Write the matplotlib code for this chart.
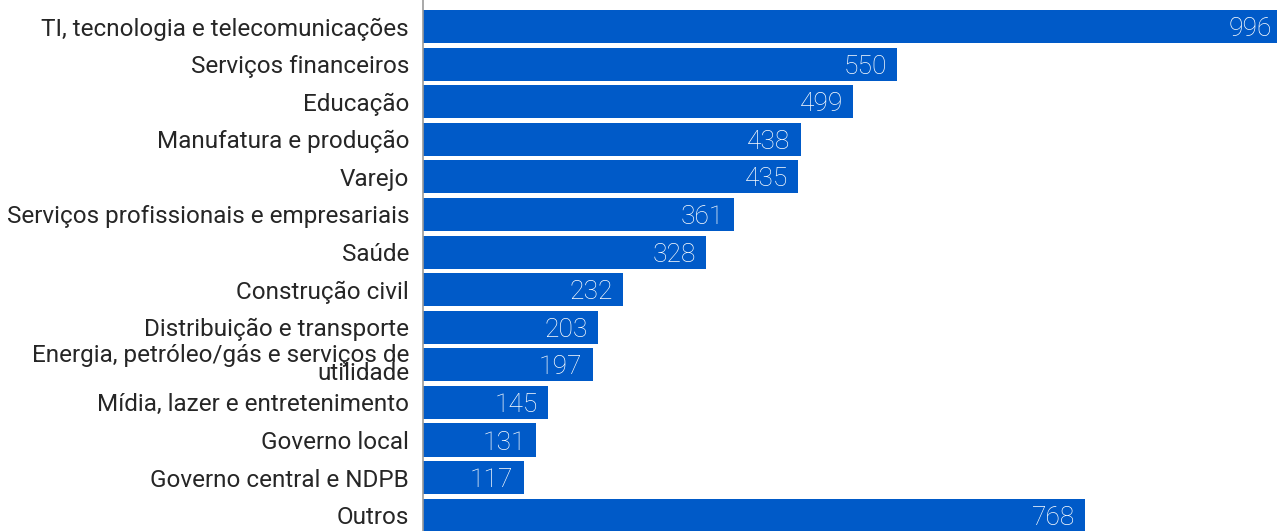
import matplotlib.pyplot as plt

# data
categories = [
    "TI, tecnologia e telecomunicações",
    "Serviços financeiros",
    "Educação",
    "Manufatura e produção",
    "Varejo",
    "Serviços profissionais e empresariais",
    "Saúde",
    "Construção civil",
    "Distribuição e transporte",
    "Energia, petróleo/gás e serviços de\nutilidade",
    "Mídia, lazer e entretenimento",
    "Governo local",
    "Governo central e NDPB",
    "Outros",
]
values = [996, 550, 499, 438, 435, 361, 328, 232, 203, 197, 145, 131, 117, 768]

bar_color = "#005AC8"
text_color = "#262626"

plt.rcParams['font.family'] = ['Roboto', 'DejaVu Sans']

fig = plt.figure(figsize=(12.77, 5.31), dpi=100)
ax = fig.add_axes([423 / 1277, 0, 854 / 1277, 1])

y = list(range(len(categories)))
ax.barh(y, values, height=0.88, color=bar_color)

for yi, v in zip(y, values):
    ax.text(v - 12, yi, str(v), color="white", ha="right", va="center_baseline",
            fontsize=19, fontweight="light")

ax.set_xlim(0, 990)
ax.set_ylim(13.42, -0.705)
ax.set_yticks(y)
ax.set_yticklabels(categories, fontsize=17.5, color=text_color, fontweight="normal",
                   linespacing=0.7, va="center_baseline")
ax.tick_params(axis="y", length=0, pad=10)
ax.set_xticks([])

for s in ["top", "right", "bottom"]:
    ax.spines[s].set_visible(False)
ax.spines["left"].set_color("#999999")
ax.spines["left"].set_linewidth(1.2)

fig.savefig("out.png", dpi=100)
